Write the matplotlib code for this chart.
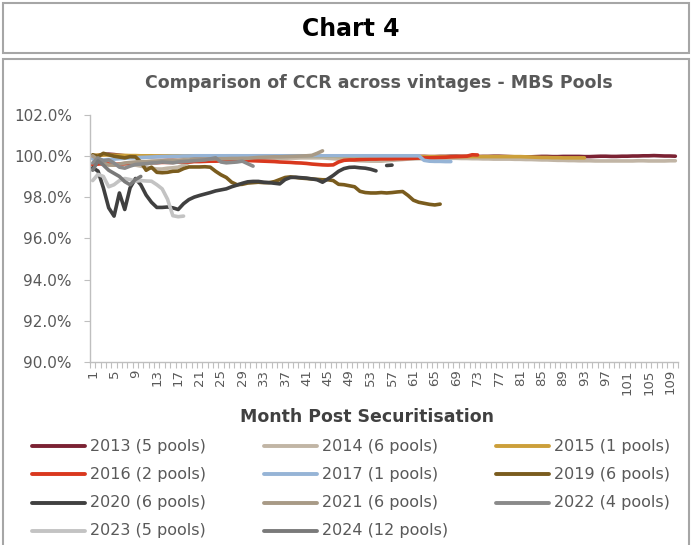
import matplotlib

matplotlib.use("Agg")
import matplotlib.pyplot as plt
import numpy as np
from matplotlib.lines import Line2D
from matplotlib.patches import Rectangle
from matplotlib.ticker import FixedLocator, FuncFormatter

W, H = 691, 545

labels = [
    "2013 (5 pools)", "2014 (6 pools)", "2015 (1 pools)",
    "2016 (2 pools)", "2017 (1 pools)", "2019 (6 pools)",
    "2020 (6 pools)", "2021 (6 pools)", "2022 (4 pools)",
    "2023 (5 pools)", "2024 (12 pools)",
]
colors = [
    "#7B2233", "#C1B5A5", "#CC9F3A",
    "#D9381E", "#96B4D6", "#7A5C1E",
    "#404040", "#A89A86", "#8A8A8A",
    "#C3C3C3", "#7A7A7A",
]

# CCR (%) by month post securitisation, month 1 onwards
ccr_2013 = [
    99.98, 100.02, 100.06, 100.08, 100.06, 100.03, 100.0, 99.98, 99.97, 99.97,
    99.96, 99.96, 99.97, 99.97, 99.96, 99.96, 99.97, 99.97, 99.98, 99.98,
    99.97, 99.97, 99.96, 99.96, 99.97, 99.97, 99.96, 99.96, 99.97, 99.97,
    99.97, 99.96, 99.96, 99.97, 99.97, 99.98, 99.98, 99.97, 99.97, 99.96,
    99.96, 99.97, 99.97, 99.98, 99.98, 99.97, 99.97, 99.96, 99.96, 99.97,
    99.97, 99.98, 99.98, 99.97, 99.97, 99.96, 99.96, 99.97, 99.97, 99.98,
    99.98, 99.97, 99.97, 99.96, 99.96, 99.97, 99.97, 99.98, 99.98, 99.97,
    99.97, 99.96, 99.96, 99.97, 99.97, 99.98, 99.98, 99.97, 99.96, 99.95,
    99.94, 99.94, 99.95, 99.96, 99.97, 99.97, 99.96, 99.96, 99.97, 99.97,
    99.97, 99.97, 99.96, 99.96, 99.97, 99.98, 99.98, 99.97, 99.97, 99.98,
    99.98, 99.99, 99.99, 100.0, 100.0, 100.01, 100.0, 99.99, 99.99, 99.98,
]
ccr_2014 = [
    100.0, 99.85, 99.7, 99.6, 99.55, 99.55, 99.6, 99.6, 99.55, 99.5,
    99.45, 99.4, 99.36, 99.36, 99.4, 99.42, 99.45, 99.55, 99.68, 99.75,
    99.78, 99.8, 99.8, 99.82, 99.82, 99.84, 99.84, 99.85, 99.85, 99.86,
    99.86, 99.86, 99.87, 99.87, 99.88, 99.88, 99.88, 99.89, 99.89, 99.9,
    99.9, 99.9, 99.9, 99.9, 99.88, 99.86, 99.84, 99.82, 99.8, 99.78,
    99.76, 99.75, 99.74, 99.74, 99.74, 99.76, 99.78, 99.8, 99.82, 99.84,
    99.85, 99.86, 99.86, 99.87, 99.87, 99.88, 99.88, 99.88, 99.88, 99.87,
    99.87, 99.86, 99.86, 99.85, 99.85, 99.84, 99.84, 99.84, 99.84, 99.83,
    99.83, 99.82, 99.82, 99.81, 99.8, 99.8, 99.79, 99.78, 99.78, 99.77,
    99.77, 99.76, 99.76, 99.76, 99.75, 99.75, 99.75, 99.75, 99.75, 99.75,
    99.75, 99.75, 99.76, 99.76, 99.75, 99.75, 99.75, 99.75, 99.76, 99.76,
]
ccr_2015 = [
    100.02, 100.03, 100.04, 100.04, 100.03, 100.02, 100.02, 100.01, 100.01, 100.0,
    100.0, 100.0, 99.99, 99.99, 100.0, 100.0, 100.0, 99.99, 99.99, 100.0,
    100.0, 100.0, 100.0, 99.99, 99.99, 100.0, 100.0, 100.0, 99.99, 99.99,
    100.0, 100.0, 100.0, 100.0, 99.99, 99.99, 99.99, 100.0, 100.0, 100.0,
    99.99, 99.99, 99.98, 99.98, 99.98, 99.98, 99.97, 99.97, 99.97, 99.97,
    99.97, 99.96, 99.96, 99.96, 99.96, 99.96, 99.96, 99.96, 99.96, 99.96,
    99.96, 99.96, 99.96, 99.96, 99.96, 99.96, 99.96, 99.96, 99.96, 99.96,
    99.96, 99.96, 99.96, 99.96, 99.96, 99.96, 99.96, 99.96, 99.96, 99.96,
    99.96, 99.95, 99.94, 99.93, 99.92, 99.92, 99.91, 99.91, 99.9, 99.9,
    99.9, 99.9, 99.9,
]
ccr_2016 = [
    99.55, 99.6, 99.62, 99.6, 99.58, 99.6, 99.62, 99.64, 99.65, 99.66,
    99.66, 99.67, 99.67, 99.68, 99.68, 99.68, 99.7, 99.7, 99.7, 99.72,
    99.72, 99.73, 99.74, 99.74, 99.75, 99.75, 99.76, 99.76, 99.77, 99.77,
    99.76, 99.75, 99.74, 99.73, 99.72, 99.7, 99.69, 99.68, 99.66, 99.65,
    99.63, 99.6, 99.58, 99.56, 99.55, 99.56, 99.7, 99.78, 99.8, 99.8,
    99.82, 99.83, 99.84, 99.84, 99.85, 99.85, 99.85, 99.86, 99.86, 99.87,
    99.88, 99.89, 99.9, 99.9, 99.91, 99.92, 99.93, 99.95, 99.96, 99.97,
    99.98, 100.05, 100.04,
]
ccr_2017 = [
    99.85, 99.82, 99.8, 99.82, 99.84, 99.86, 99.88, 99.9, 99.9, 99.92,
    99.93, 99.94, 99.95, 99.96, 99.97, 99.98, 99.98, 99.99, 99.99, 100.0,
    100.0, 100.0, 100.0, 100.0, 100.0, 100.0, 100.0, 100.0, 100.0, 100.0,
    100.0, 100.0, 100.0, 100.0, 100.0, 100.0, 100.0, 100.0, 100.0, 100.0,
    100.0, 100.0, 100.0, 100.0, 100.0, 100.0, 100.0, 100.0, 100.0, 100.0,
    100.0, 100.0, 100.0, 100.0, 100.0, 100.0, 100.0, 100.0, 100.0, 100.0,
    100.0, 100.0, 99.78, 99.74, 99.73, 99.73, 99.72, 99.72,
]
ccr_2019 = [
    100.05, 99.97, 100.12, 100.05, 99.98, 99.94, 99.9, 99.96, 99.95, 99.7,
    99.3, 99.45, 99.2, 99.18, 99.2, 99.25, 99.26, 99.38, 99.46, 99.46,
    99.46, 99.47, 99.45, 99.25, 99.08, 98.95, 98.72, 98.6, 98.62, 98.68,
    98.7, 98.72, 98.7, 98.7, 98.75, 98.85, 98.95, 98.98, 98.95, 98.92,
    98.9, 98.88, 98.86, 98.84, 98.84, 98.8, 98.62, 98.6, 98.55, 98.5,
    98.28, 98.22, 98.2, 98.2, 98.22, 98.2, 98.22, 98.25, 98.27, 98.08,
    97.85, 97.75, 97.7, 97.65, 97.62, 97.66,
]
ccr_2020 = [
    99.42, 99.26, 98.45, 97.48, 97.08, 98.2, 97.4, 98.45, 98.9, 98.6,
    98.1, 97.75, 97.5, 97.5, 97.52, 97.48, 97.4, 97.68, 97.88, 98.0,
    98.08, 98.15, 98.22, 98.3, 98.35, 98.4, 98.5, 98.58, 98.67, 98.74,
    98.76, 98.76, 98.72, 98.7, 98.67, 98.64, 98.85, 98.95, 98.96, 98.94,
    98.92, 98.88, 98.84, 98.72, 98.88, 99.05, 99.25, 99.38, 99.44, 99.45,
    99.42, 99.4, 99.35, 99.27, np.nan, 99.53, 99.55,
]
ccr_2021 = [
    100.0, 99.8, 99.65, 99.55, 99.55, 99.6, 99.65, 99.68, 99.7, 99.72,
    99.72, 99.74, 99.75, 99.76, 99.77, 99.78, 99.78, 99.8, 99.8, 99.82,
    99.82, 99.83, 99.84, 99.85, 99.86, 99.86, 99.87, 99.87, 99.88, 99.88,
    99.9, 99.92, 99.93, 99.94, 99.95, 99.95, 99.96, 99.97, 99.98, 99.99,
    100.0, 100.02, 100.12, 100.24,
]
ccr_2022 = [
    99.65, 99.9, 99.75, 99.8, 99.65, 99.45, 99.4, 99.5, 99.58, 99.6,
    99.62, 99.65, 99.66, 99.7, 99.68, 99.66, 99.7, 99.72, 99.74, 99.76,
    99.78, 99.8, 99.85, 99.9, 99.7, 99.66, 99.68, 99.7, 99.74, 99.62,
    99.5,
]
ccr_2023 = [
    98.8, 99.1, 99.0, 98.5, 98.6, 98.8, 98.9, 98.85, 98.77, 98.8,
    98.78, 98.77, 98.6, 98.4, 97.9, 97.1, 97.05, 97.08,
]
ccr_2024 = [99.3, 99.75, 99.55, 99.3, 99.15, 99.0, 98.75, 98.6, 98.85, 99.0]

series = [
    ccr_2013, ccr_2014, ccr_2015, ccr_2016, ccr_2017, ccr_2019,
    ccr_2020, ccr_2021, ccr_2022, ccr_2023, ccr_2024,
]
n_months = 110
tick_months = list(range(1, n_months + 1, 4))

TEXT = "#595959"
AXIS = "#BFBFBF"
FRAME = "#A6A6A6"


def fx(px):
    return px / W


def fy(py):
    return 1 - py / H


fig = plt.figure(figsize=(W / 100, H / 100), dpi=100)

# outer frames
fig.add_artist(Rectangle((fx(3), fy(53)), fx(686), 50 / H, transform=fig.transFigure,
                         fill=False, edgecolor=FRAME, linewidth=1.5))
fig.add_artist(Rectangle((fx(3), -0.05), fx(686), fy(59) + 0.05, transform=fig.transFigure,
                         fill=False, edgecolor=FRAME, linewidth=1.5))
fig.text(fx(351), fy(29), "Chart 4", ha="center", va="center",
         fontsize=17, fontweight="bold", color="black")
fig.text(fx(379), fy(83), "Comparison of CCR across vintages - MBS Pools", ha="center", va="center",
         fontsize=12.5, fontweight="bold", color=TEXT)

ax = fig.add_axes([fx(90), fy(362.3), fx(678) - fx(90), (362.3 - 114.5) / H])
for values, color in zip(series, colors):
    months = np.arange(1, len(values) + 1)
    ax.plot(months, values, color=color, linewidth=2.6,
            solid_joinstyle="round", solid_capstyle="round")

ax.set_xlim(0.5, n_months + 0.5)
ax.set_ylim(90, 102)
ax.set_yticks(np.arange(90, 102.1, 2))
ax.yaxis.set_major_formatter(FuncFormatter(lambda v, _: f"{v:.1f}%"))
ax.set_xticks(tick_months)
ax.set_xticklabels([str(m) for m in tick_months], rotation=90, fontsize=9.5, color=TEXT)
ax.xaxis.set_minor_locator(FixedLocator(np.arange(0.5, n_months + 1, 1)))
ax.tick_params(axis="x", which="major", length=0, pad=5)
ax.tick_params(axis="x", which="minor", length=4, color=AXIS, width=0.8)
ax.tick_params(axis="y", length=4, color=AXIS, width=0.8, labelsize=11, labelcolor=TEXT, pad=9)
for side in ("top", "right"):
    ax.spines[side].set_visible(False)
for side in ("left", "bottom"):
    ax.spines[side].set_color(AXIS)
    ax.spines[side].set_linewidth(1.0)

fig.text(fx(367), fy(417), "Month Post Securitisation", ha="center", va="center",
         fontsize=12.5, fontweight="bold", color="#404040")

# legend, laid out row by row like the source
for i, (label, color) in enumerate(zip(labels, colors)):
    row, col = divmod(i, 3)
    y = fy(446 + row * 28.3)
    x0 = 31.7 + col * 232
    fig.add_artist(Line2D([fx(x0), fx(x0 + 53)], [y, y], transform=fig.transFigure,
                          color=color, linewidth=2.8, solid_capstyle="round"))
    fig.text(fx(x0 + 58.5), y, label, ha="left", va="center", fontsize=11.5, color=TEXT)

fig.savefig("out.png", dpi=100)
